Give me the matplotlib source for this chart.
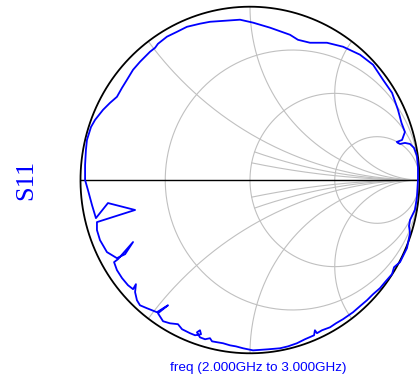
import numpy as np
import matplotlib.pyplot as plt

# S11 reflection coefficient, 2.000 GHz -> 3.000 GHz (real / imag parts)
s11_re = [0.873, 0.885, 0.914, 0.944, 0.968, 0.985, 0.991, 0.991, 0.985, 0.973,
          0.944, 0.938, 0.944, 0.926, 0.885, 0.850, 0.838, 0.796, 0.767, 0.726,
          0.690, 0.649, 0.608, 0.549, 0.507, 0.472, 0.425, 0.395, 0.383, 0.378,
          0.324, 0.277, 0.224, 0.177, 0.106, 0.018, -0.041, -0.083, -0.118, -0.159,
          -0.195, -0.224, -0.236, -0.265, -0.295, -0.313, -0.295, -0.289, -0.324, -0.354,
          -0.401, -0.425, -0.472, -0.513, -0.543, -0.484, -0.549, -0.608, -0.649, -0.667,
          -0.678, -0.673, -0.690, -0.720, -0.755, -0.785, -0.802, -0.779, -0.690, -0.737,
          -0.785, -0.844, -0.885, -0.903, -0.903, -0.678, -0.838, -0.909, -0.932, -0.956,
          -0.973, -0.973, -0.968, -0.962, -0.938, -0.914, -0.867, -0.826, -0.785, -0.755,
          -0.726, -0.690, -0.649, -0.590, -0.560, -0.543, -0.490, -0.431, -0.372, -0.295,
          -0.236, -0.147, -0.059, 0.018, 0.118, 0.236, 0.283, 0.354, 0.454, 0.549,
          0.649, 0.726, 0.785, 0.838, 0.873, 0.894, 0.914, 0.897, 0.867]
s11_im = [0.214, 0.208, 0.214, 0.208, 0.185, 0.139, 0.075, 0.000, -0.098, -0.173,
          -0.231, -0.266, -0.306, -0.393, -0.474, -0.503, -0.543, -0.590, -0.624, -0.659,
          -0.694, -0.728, -0.763, -0.803, -0.827, -0.850, -0.867, -0.884, -0.867, -0.896,
          -0.919, -0.942, -0.960, -0.971, -0.977, -0.983, -0.971, -0.960, -0.954, -0.942,
          -0.936, -0.931, -0.913, -0.919, -0.908, -0.879, -0.867, -0.890, -0.896, -0.884,
          -0.861, -0.832, -0.827, -0.815, -0.769, -0.723, -0.763, -0.740, -0.723, -0.694,
          -0.647, -0.601, -0.630, -0.607, -0.566, -0.520, -0.474, -0.457, -0.358, -0.428,
          -0.451, -0.416, -0.347, -0.289, -0.243, -0.173, -0.133, -0.220, -0.145, -0.058,
          0.000, 0.087, 0.173, 0.231, 0.306, 0.347, 0.405, 0.445, 0.480, 0.532,
          0.578, 0.636, 0.682, 0.740, 0.763, 0.786, 0.827, 0.855, 0.884, 0.902,
          0.913, 0.919, 0.925, 0.908, 0.879, 0.838, 0.809, 0.792, 0.792, 0.769,
          0.723, 0.665, 0.578, 0.503, 0.405, 0.329, 0.277, 0.231, 0.220]

r_circles = [1 / 3, 1, 3]
x_arcs = [0.5, 1, 2]
x_short = [0.2, 1 / 3]

blue = "#0000ff"
grey = "#c0c0c0"

fig = plt.figure(figsize=(4.2, 3.83), dpi=100)
ax = fig.add_axes([80.5 / 420, 29.7 / 383, 339 / 420, 346.6 / 383])
ax.set_xlim(-1, 1)
ax.set_ylim(-1, 1)
ax.axis("off")

t = np.linspace(0, 2 * np.pi, 400)

# constant resistance circles
for r in r_circles:
    c, rad = r / (1 + r), 1 / (1 + r)
    ax.plot(c + rad * np.cos(t), rad * np.sin(t), color=grey, lw=0.8)

# constant reactance arcs
def reactance(x, r_from=0.0):
    rr = np.concatenate([np.linspace(r_from, 5, 300), np.logspace(0.7, 4, 200)])
    z = rr + 1j * x
    return (z - 1) / (z + 1)

for x in x_arcs:
    for s in (1, -1):
        g = reactance(s * x)
        ax.plot(g.real, g.imag, color=grey, lw=0.8)
for x in x_short:
    for s in (1, -1):
        g = reactance(s * x, r_from=1.0)
        ax.plot(g.real, g.imag, color=grey, lw=0.8)

ax.plot([-1, 1], [0, 0], color="black", lw=1.0)
ax.plot(np.cos(t), np.sin(t), color="black", lw=1.3, clip_on=False)

ax.plot(s11_re, s11_im, color=blue, lw=1.3, clip_on=False)

fig.text(26 / 420, 1 - 180 / 383, "S11", color=blue, rotation=90,
         family="Liberation Serif", fontsize=19, ha="center", va="center")
fig.text(258 / 420, 1 - 368 / 383, "freq (2.000GHz to 3.000GHz)", color=blue,
         family="Liberation Sans", fontsize=9.7, ha="center", va="center")

fig.savefig("out.png", dpi=100)
